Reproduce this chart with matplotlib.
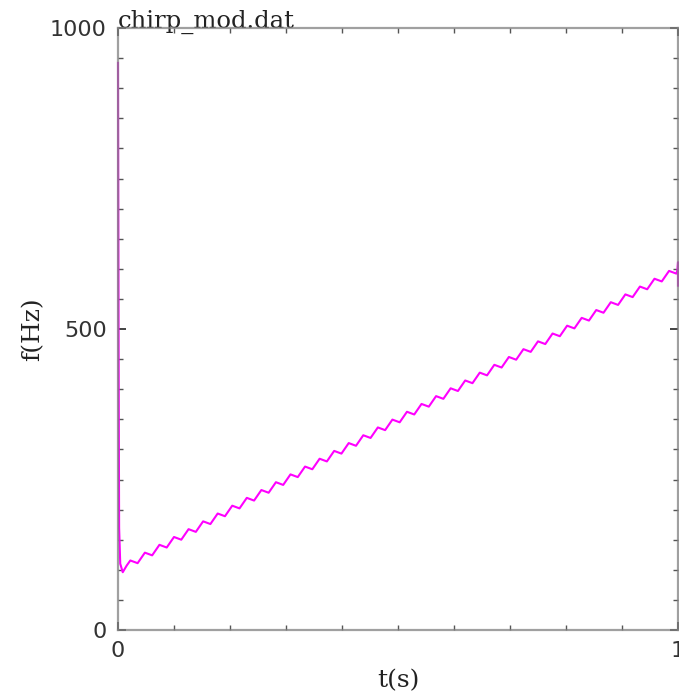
import matplotlib
matplotlib.use("Agg")
import matplotlib.pyplot as plt
from matplotlib.ticker import MultipleLocator

# instantaneous frequency:
# spike at the start, a ramp with ~38 small wiggles, spike at the end
spike_t = [0.000, 0.001, 0.002, 0.004, 0.0085, 0.0155]
spike_f = [942, 500, 170, 110, 96, 107]

# one row per wiggle: peak, falling, trough, rising
wiggle_t = [
  0.0220, 0.0285, 0.0350, 0.0415,
  0.0480, 0.0545, 0.0610, 0.0675,
  0.0740, 0.0805, 0.0870, 0.0935,
  0.1000, 0.1065, 0.1130, 0.1195,
  0.1260, 0.1325, 0.1390, 0.1455,
  0.1520, 0.1585, 0.1650, 0.1715,
  0.1780, 0.1845, 0.1910, 0.1975,
  0.2040, 0.2105, 0.2170, 0.2235,
  0.2300, 0.2365, 0.2430, 0.2495,
  0.2560, 0.2625, 0.2690, 0.2755,
  0.2820, 0.2885, 0.2950, 0.3015,
  0.3080, 0.3145, 0.3210, 0.3275,
  0.3340, 0.3405, 0.3470, 0.3535,
  0.3600, 0.3665, 0.3730, 0.3795,
  0.3860, 0.3925, 0.3990, 0.4055,
  0.4120, 0.4185, 0.4250, 0.4315,
  0.4380, 0.4445, 0.4510, 0.4575,
  0.4640, 0.4705, 0.4770, 0.4835,
  0.4900, 0.4965, 0.5030, 0.5095,
  0.5160, 0.5225, 0.5290, 0.5355,
  0.5420, 0.5485, 0.5550, 0.5615,
  0.5680, 0.5745, 0.5810, 0.5875,
  0.5940, 0.6005, 0.6070, 0.6135,
  0.6200, 0.6265, 0.6330, 0.6395,
  0.6460, 0.6525, 0.6590, 0.6655,
  0.6720, 0.6785, 0.6850, 0.6915,
  0.6980, 0.7045, 0.7110, 0.7175,
  0.7240, 0.7305, 0.7370, 0.7435,
  0.7500, 0.7565, 0.7630, 0.7695,
  0.7760, 0.7825, 0.7890, 0.7955,
  0.8020, 0.8085, 0.8150, 0.8215,
  0.8280, 0.8345, 0.8410, 0.8475,
  0.8540, 0.8605, 0.8670, 0.8735,
  0.8800, 0.8865, 0.8930, 0.8995,
  0.9060, 0.9125, 0.9190, 0.9255,
  0.9320, 0.9385, 0.9450, 0.9515,
  0.9580, 0.9645, 0.9710, 0.9775,
  0.9840, 0.9905, 0.9970,
]
wiggle_f = [
  115.5, 113.3, 111.0, 119.8,
  128.5, 126.3, 124.0, 132.8,
  141.5, 139.3, 137.0, 145.8,
  154.5, 152.3, 150.0, 158.8,
  167.5, 165.3, 163.0, 171.8,
  180.5, 178.3, 176.0, 184.8,
  193.5, 191.3, 189.0, 197.8,
  206.5, 204.3, 202.0, 210.8,
  219.5, 217.3, 215.0, 223.8,
  232.5, 230.3, 228.0, 236.8,
  245.5, 243.3, 241.0, 249.8,
  258.5, 256.3, 254.0, 262.8,
  271.5, 269.3, 267.0, 275.8,
  284.5, 282.3, 280.0, 288.8,
  297.5, 295.3, 293.0, 301.8,
  310.5, 308.3, 306.0, 314.8,
  323.5, 321.3, 319.0, 327.8,
  336.5, 334.3, 332.0, 340.8,
  349.5, 347.3, 345.0, 353.8,
  362.5, 360.3, 358.0, 366.8,
  375.5, 373.3, 371.0, 379.8,
  388.5, 386.3, 384.0, 392.8,
  401.5, 399.3, 397.0, 405.8,
  414.5, 412.3, 410.0, 418.8,
  427.5, 425.3, 423.0, 431.8,
  440.5, 438.3, 436.0, 444.8,
  453.5, 451.3, 449.0, 457.8,
  466.5, 464.3, 462.0, 470.8,
  479.5, 477.3, 475.0, 483.8,
  492.5, 490.3, 488.0, 496.8,
  505.5, 503.3, 501.0, 509.8,
  518.5, 516.3, 514.0, 522.8,
  531.5, 529.3, 527.0, 535.8,
  544.5, 542.3, 540.0, 548.8,
  557.5, 555.3, 553.0, 561.8,
  570.5, 568.3, 566.0, 574.8,
  583.5, 581.3, 579.0, 587.8,
  596.5, 594.3, 592.0,
]

end_t = [0.999, 1.000, 1.000]
end_f = [598, 611, 572]

x_ticks = [0, 1]
y_ticks = [0, 500, 1000]
title = "chirp_mod.dat"

t_all = spike_t + wiggle_t + end_t
f_all = spike_f + wiggle_f + end_f

fig = plt.figure(figsize=(6.79, 7.0), dpi=100)
ax = fig.add_axes([118/679, 70/700, 560/679, 602/700])

ax.plot(t_all, f_all, color="#ff00ff", lw=1.5, clip_on=False, zorder=2,
        solid_joinstyle="round")

ax.set_xlim(0, 1)
ax.set_ylim(0, 1000)
ax.set_xticks(x_ticks)
ax.set_yticks(y_ticks)
ax.set_xticklabels(["0", "1"])
ax.xaxis.set_minor_locator(MultipleLocator(0.1))
ax.yaxis.set_minor_locator(MultipleLocator(50))

for s in ax.spines.values():
  s.set_color("#808080")
  s.set_alpha(0.75)
  s.set_linewidth(1.6)
  s.set_zorder(3)

ax.tick_params(which="both", direction="in", top=True, right=True,
               labelsize=16, pad=8)
ax.tick_params(which="major", length=6, width=1.2, color="#222222")
ax.tick_params(which="minor", length=3.5, width=1.0, color="#555555")
for lab in ax.get_xticklabels() + ax.get_yticklabels():
  lab.set_family("DejaVu Sans")
  lab.set_color("#333333")

serif = "DejaVu Serif"
ax.text(0.0, 1.0, title, transform=ax.transAxes, ha="left", va="baseline",
        fontsize=17.5, family=serif, color="#222222")
ax.set_xlabel("t(s)", fontsize=18, family=serif, color="#222222", labelpad=6)
ax.set_ylabel("f(Hz)", fontsize=18, family=serif, color="#222222", labelpad=4)

fig.savefig("out.png", dpi=100)
